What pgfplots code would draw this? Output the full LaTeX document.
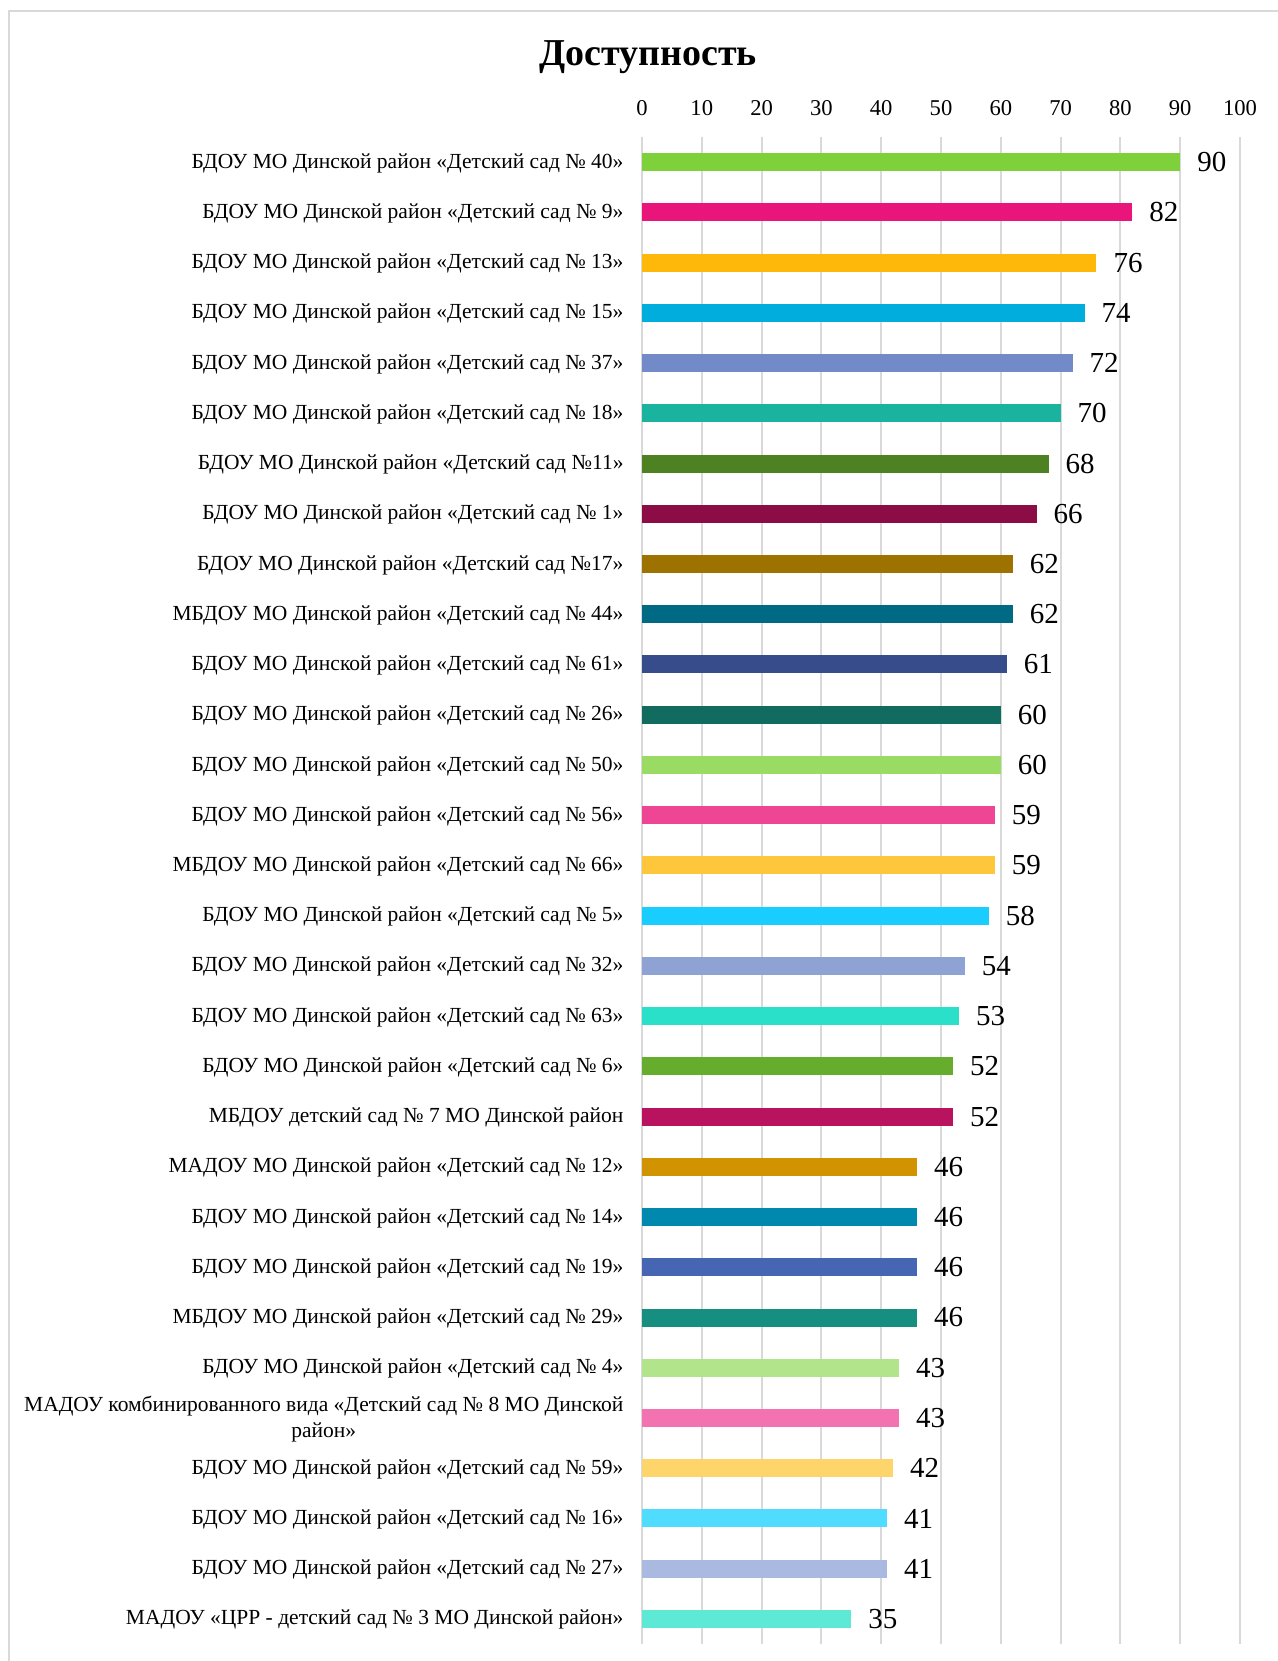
\documentclass[border=0pt]{standalone}
\usepackage{pgfplots}
\pgfplotsset{compat=1.18}
\usepackage{fontspec}
\setmainfont{Liberation Serif}
\definecolor{c1}{HTML}{7FD13B}
\definecolor{c2}{HTML}{EA157A}
\definecolor{c3}{HTML}{FEB80A}
\definecolor{c4}{HTML}{00ADDC}
\definecolor{c5}{HTML}{738AC8}
\definecolor{c6}{HTML}{1AB39F}
\definecolor{c7}{HTML}{4E8121}
\definecolor{c8}{HTML}{8C0D46}
\definecolor{c9}{HTML}{9E7200}
\definecolor{c10}{HTML}{006A84}
\definecolor{c11}{HTML}{374C8A}
\definecolor{c12}{HTML}{116B5E}
\definecolor{c13}{HTML}{9ADB63}
\definecolor{c14}{HTML}{EE4694}
\definecolor{c15}{HTML}{FEC63B}
\definecolor{c16}{HTML}{19CEFE}
\definecolor{c17}{HTML}{8FA2D4}
\definecolor{c18}{HTML}{2AE0C9}
\definecolor{c19}{HTML}{66AD2D}
\definecolor{c20}{HTML}{B9125E}
\definecolor{c21}{HTML}{D19400}
\definecolor{c22}{HTML}{0088AE}
\definecolor{c23}{HTML}{4666B4}
\definecolor{c24}{HTML}{168F80}
\definecolor{c25}{HTML}{B2E58B}
\definecolor{c26}{HTML}{F273AF}
\definecolor{c27}{HTML}{FED56B}
\definecolor{c28}{HTML}{4FDCFF}
\definecolor{c29}{HTML}{A9B9DF}
\definecolor{c30}{HTML}{5EE8D6}
\definecolor{gridgray}{HTML}{D9D9D9}
\begin{document}
\begin{tikzpicture}
\path[use as bounding box] (0,0) rectangle (639pt,-830.5pt);
\draw[gridgray, line width=1pt] (4.25pt,-840pt) -- (4.25pt,-5.35pt) -- (650pt,-5.35pt);
\node[font=\fontsize{19}{23}\selectfont\bfseries] at (324pt,-28.5pt) {Доступность};
\begin{axis}[
  at={(321pt,-822pt)}, anchor=south west,
  scale only axis, width=299pt, height=753.5pt,
  xbar, bar width=9pt, /pgf/bar shift=0pt,
  xmin=0, xmax=100, ymin=-0.5, ymax=29.5, y dir=reverse,
  xtick={0,10,...,100}, xticklabel pos=upper,
  ytick={0,...,29},
  axis line style={draw=none}, major tick length=0pt,
  xmajorgrids, grid style={gridgray, line width=1pt},
  /pgf/number format/assume math mode=true,
  xticklabel style={font=\fontsize{11.3}{13}\selectfont, anchor=center, yshift=14.5pt},
  yticklabel style={font=\fontsize{10.75}{12.9}\selectfont, anchor=east, align=center, xshift=-5.7pt, yshift=-0.5pt},
  nodes near coords,
  every node near coord/.append style={font=\fontsize{14.5}{16}\selectfont, anchor=west, xshift=5pt, text=black},
  yticklabels={
    {БДОУ МО Динской район «Детский сад № 40»},
    {БДОУ МО Динской район «Детский сад № 9»},
    {БДОУ МО Динской район «Детский сад № 13»},
    {БДОУ МО Динской район «Детский сад № 15»},
    {БДОУ МО Динской район «Детский сад № 37»},
    {БДОУ МО Динской район «Детский сад № 18»},
    {БДОУ МО Динской район «Детский сад №11»},
    {БДОУ МО Динской район «Детский сад № 1»},
    {БДОУ МО Динской район «Детский сад №17»},
    {МБДОУ МО Динской район «Детский сад № 44»},
    {БДОУ МО Динской район «Детский сад № 61»},
    {БДОУ МО Динской район «Детский сад № 26»},
    {БДОУ МО Динской район «Детский сад № 50»},
    {БДОУ МО Динской район «Детский сад № 56»},
    {МБДОУ МО Динской район «Детский сад № 66»},
    {БДОУ МО Динской район «Детский сад № 5»},
    {БДОУ МО Динской район «Детский сад № 32»},
    {БДОУ МО Динской район «Детский сад № 63»},
    {БДОУ МО Динской район «Детский сад № 6»},
    {МБДОУ детский сад № 7 МО Динской район},
    {МАДОУ МО Динской район «Детский сад № 12»},
    {БДОУ МО Динской район «Детский сад № 14»},
    {БДОУ МО Динской район «Детский сад № 19»},
    {МБДОУ МО Динской район «Детский сад № 29»},
    {БДОУ МО Динской район «Детский сад № 4»},
    {МАДОУ комбинированного вида «Детский сад № 8 МО Динской\\район»},
    {БДОУ МО Динской район «Детский сад № 59»},
    {БДОУ МО Динской район «Детский сад № 16»},
    {БДОУ МО Динской район «Детский сад № 27»},
    {МАДОУ «ЦРР - детский сад № 3 МО Динской район»}
  },
]
\addplot[fill=c1, draw=none] coordinates {(90,0)};
\addplot[fill=c2, draw=none] coordinates {(82,1)};
\addplot[fill=c3, draw=none] coordinates {(76,2)};
\addplot[fill=c4, draw=none] coordinates {(74,3)};
\addplot[fill=c5, draw=none] coordinates {(72,4)};
\addplot[fill=c6, draw=none] coordinates {(70,5)};
\addplot[fill=c7, draw=none] coordinates {(68,6)};
\addplot[fill=c8, draw=none] coordinates {(66,7)};
\addplot[fill=c9, draw=none] coordinates {(62,8)};
\addplot[fill=c10, draw=none] coordinates {(62,9)};
\addplot[fill=c11, draw=none] coordinates {(61,10)};
\addplot[fill=c12, draw=none] coordinates {(60,11)};
\addplot[fill=c13, draw=none] coordinates {(60,12)};
\addplot[fill=c14, draw=none] coordinates {(59,13)};
\addplot[fill=c15, draw=none] coordinates {(59,14)};
\addplot[fill=c16, draw=none] coordinates {(58,15)};
\addplot[fill=c17, draw=none] coordinates {(54,16)};
\addplot[fill=c18, draw=none] coordinates {(53,17)};
\addplot[fill=c19, draw=none] coordinates {(52,18)};
\addplot[fill=c20, draw=none] coordinates {(52,19)};
\addplot[fill=c21, draw=none] coordinates {(46,20)};
\addplot[fill=c22, draw=none] coordinates {(46,21)};
\addplot[fill=c23, draw=none] coordinates {(46,22)};
\addplot[fill=c24, draw=none] coordinates {(46,23)};
\addplot[fill=c25, draw=none] coordinates {(43,24)};
\addplot[fill=c26, draw=none] coordinates {(43,25)};
\addplot[fill=c27, draw=none] coordinates {(42,26)};
\addplot[fill=c28, draw=none] coordinates {(41,27)};
\addplot[fill=c29, draw=none] coordinates {(41,28)};
\addplot[fill=c30, draw=none] coordinates {(35,29)};
\end{axis}
\end{tikzpicture}
\end{document}
